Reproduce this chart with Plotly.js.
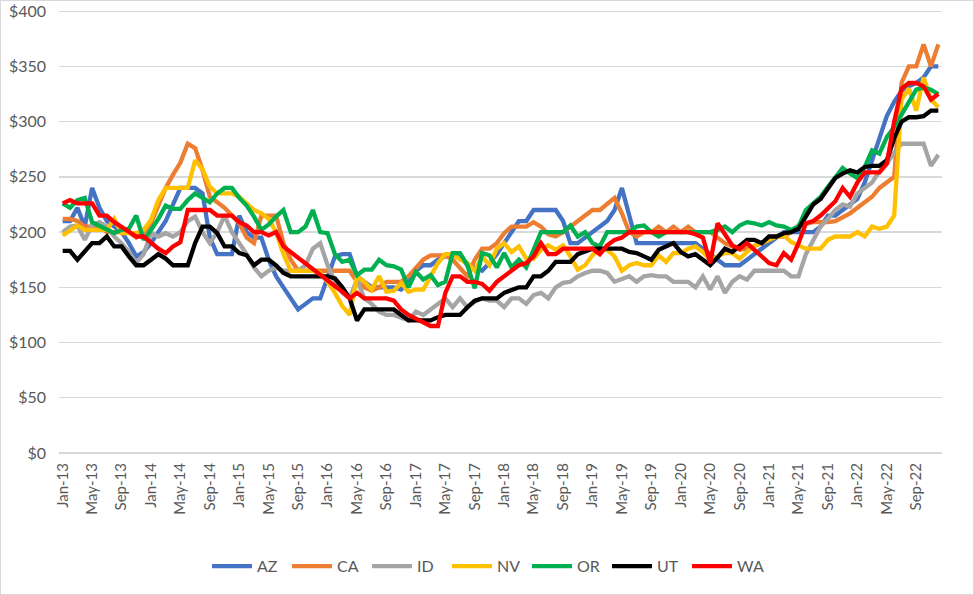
<!DOCTYPE html>
<html>
<head>
<meta charset="utf-8">
<script src="https://cdn.plot.ly/plotly-3.0.1.min.js"></script>
<style>
  html, body { margin: 0; padding: 0; background: #fff; }
  #chart { width: 974px; height: 595px; box-sizing: border-box; border: 1px solid #d9d9d9; }
</style>
</head>
<body>
<div id="chart"></div>
<script>
const monthNames = ['Jan','Feb','Mar','Apr','May','Jun','Jul','Aug','Sep','Oct','Nov','Dec'];
const yearLabels = ['13','14','15','16','17','18','19','20','21','22'];
const months = [];
yearLabels.forEach(y => monthNames.forEach(m => months.push(m + '-' + y)));

const seriesNames = ['AZ','CA','ID','NV','OR','UT','WA'];
const seriesColors = ['#4472C4','#ED7D31','#A5A5A5','#FFC000','#00B050','#000000','#FF0000'];

const AZ = [210,210,222,205,240,222,210,205,200,190,178,182,
 190,200,210,225,240,240,240,235,195,180,180,180,
 215,200,195,195,175,160,150,140,130,135,140,140,
 158,178,180,180,160,155,150,150,150,150,148,155,
 165,170,170,175,178,180,178,170,168,165,172,180,
 190,200,210,210,220,220,220,220,210,190,190,195,
 200,205,210,220,240,215,190,190,190,190,190,190,
 190,190,190,185,180,175,170,170,170,175,180,185,
 190,195,200,200,200,200,200,205,215,215,220,225,
 230,245,265,285,305,318,328,332,335,340,350,350];

const CA = [212,212,210,205,205,205,200,200,200,200,195,200,
 208,225,240,252,263,280,276,256,232,227,222,215,
 208,195,190,215,215,215,190,175,165,165,165,165,
 165,165,165,165,155,150,147,150,155,155,155,160,
 167,175,179,179,179,175,168,160,175,185,185,190,
 199,205,205,205,209,205,198,196,200,205,209,215,
 220,220,225,231,217,200,196,200,200,205,200,205,
 200,205,200,200,200,195,190,187,184,185,187,190,
 194,196,196,200,206,208,209,209,209,210,213,217,
 222,227,232,240,245,250,335,350,350,370,350,370];

const ID = [200,205,206,193,206,209,205,196,190,182,172,180,
 199,196,199,196,200,210,214,200,190,200,215,200,
 190,180,168,160,165,168,165,165,165,170,185,190,
 170,155,145,140,157,140,135,128,125,125,123,120,
 128,125,130,135,140,132,140,132,137,140,138,138,
 132,140,140,135,143,145,140,150,154,155,160,163,
 165,165,163,155,157,160,155,160,161,160,160,155,
 155,155,150,160,148,160,145,155,160,157,165,165,
 165,165,165,160,160,180,193,205,212,220,225,223,
 235,240,245,255,262,272,280,280,280,280,260,270];

const NV = [197,202,206,202,202,202,202,212,199,199,199,202,
 211,229,240,240,240,240,265,257,241,235,235,235,
 232,226,220,217,212,200,180,165,165,165,165,163,
 155,145,133,125,160,155,148,160,146,147,154,146,
 148,148,160,172,180,180,175,172,165,178,170,185,
 190,182,187,176,176,184,188,184,188,178,166,170,
 179,185,184,178,165,170,172,170,170,179,173,181,
 181,185,187,182,175,178,181,181,176,182,188,190,
 193,196,197,191,188,185,185,185,193,196,196,196,
 200,196,205,203,205,215,320,330,310,340,320,313];

const OR = [226,222,229,231,209,206,202,199,202,203,215,193,
 202,212,224,221,221,229,235,231,227,235,240,240,
 231,224,214,202,207,214,220,200,200,205,220,200,
 199,180,173,175,161,166,166,175,170,169,166,150,
 164,157,161,152,155,181,181,170,149,181,179,168,
 181,168,175,168,185,200,200,200,200,206,196,200,
 190,187,200,200,200,200,205,206,200,196,200,200,
 200,200,200,200,200,202,205,200,206,209,208,206,
 209,206,205,202,205,220,226,232,241,250,258,253,
 249,259,274,271,286,295,307,319,329,331,329,325];

const UT = [183,183,175,183,190,190,196,187,187,178,170,170,
 175,180,176,170,170,170,190,205,205,199,187,187,
 181,179,170,175,175,170,163,160,160,160,160,160,
 160,158,150,140,120,130,130,130,130,130,125,120,
 120,120,120,123,125,125,125,132,138,140,140,140,
 145,147,150,150,160,160,165,173,173,173,180,182,
 185,185,185,185,185,182,181,178,175,184,187,190,
 182,178,180,175,170,177,185,182,187,193,193,190,
 196,196,199,200,203,215,225,230,240,249,253,256,
 254,259,260,260,265,285,300,304,304,305,310,310];

const WA = [226,229,226,226,226,215,215,209,205,200,196,196,
 190,185,181,187,191,220,220,220,220,215,215,215,
 209,206,200,200,197,200,187,182,176,172,167,162,
 157,152,146,140,145,140,140,140,140,138,130,125,
 122,119,115,115,145,160,160,155,155,153,147,155,
 160,166,170,172,178,190,180,180,185,185,185,185,
 185,180,188,193,195,200,200,200,200,200,200,200,
 200,200,198,195,172,208,198,188,185,190,184,178,
 172,170,181,175,190,208,210,215,222,228,240,232,
 245,254,254,254,262,300,330,335,335,332,320,325];

const values = [AZ, CA, ID, NV, OR, UT, WA];
const yTickVals = [0,50,100,150,200,250,300,350,400];
const yTickText = ['$0','$50','$100','$150','$200','$250','$300','$350','$400'];
const xTickVals = months.filter((m, i) => i % 4 === 0);

const traces = seriesNames.map((name, k) => ({
  type: 'scatter',
  mode: 'lines',
  name: name,
  x: months,
  y: values[k],
  line: { color: seriesColors[k], width: 4.3, shape: 'linear' },
  hoverinfo: 'skip'
}));

const layout = {
  width: 972,
  height: 593,
  margin: { l: 58, r: 31, t: 8, b: 141 },
  paper_bgcolor: '#ffffff',
  plot_bgcolor: '#ffffff',
  font: { family: 'Lato, "Open Sans", sans-serif', size: 16, color: '#595959' },
  showlegend: true,
  legend: {
    orientation: 'h',
    xref: 'container', yref: 'container',
    x: 0.5, xanchor: 'center',
    y: 0.047, yanchor: 'middle',
    font: { size: 16, color: '#595959' },
    itemwidth: 40,
    entrywidth: 25,
    entrywidthmode: 'pixels'
  },
  xaxis: {
    type: 'category',
    range: [-0.5, 119.5],
    showgrid: false,
    zeroline: false,
    showline: false,
    ticks: '',
    tickmode: 'array',
    tickvals: xTickVals,
    ticktext: xTickVals,
    tickangle: -90,
    tickfont: { size: 15, color: '#595959' },
    ticklabelstandoff: 6
  },
  yaxis: {
    range: [0, 402],
    tickmode: 'array',
    tickvals: yTickVals,
    ticktext: yTickText,
    showgrid: true,
    gridcolor: '#d9d9d9',
    gridwidth: 1.3,
    zeroline: true,
    zerolinecolor: '#d9d9d9',
    zerolinewidth: 1.3,
    showline: false,
    ticks: '',
    ticklabeloverflow: 'allow',
    tickfont: { size: 16, color: '#595959' },
    ticklabelstandoff: 12
  }
};

Plotly.newPlot('chart', traces, layout, { displayModeBar: false, staticPlot: true });
</script>
</body>
</html>
